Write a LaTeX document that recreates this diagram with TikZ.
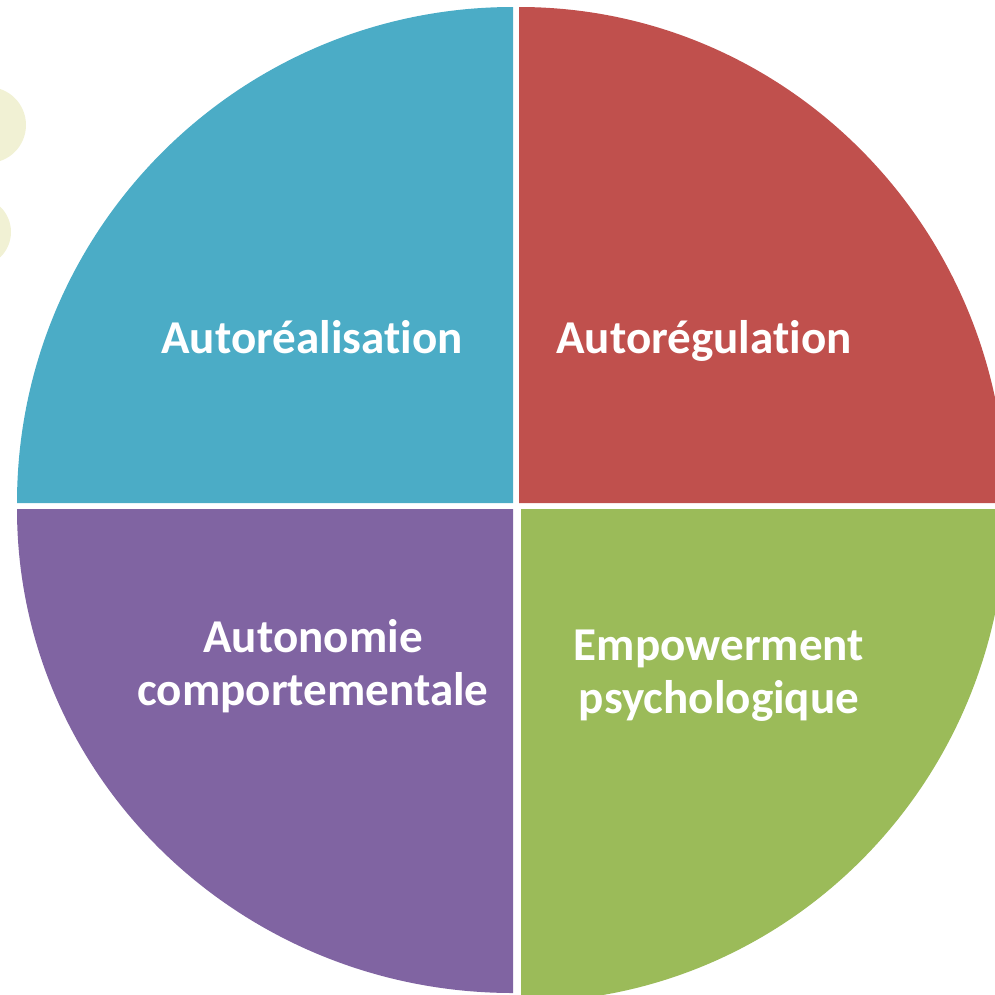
\documentclass[tikz,border=0pt]{standalone}
\usepackage{fontspec}
\setmainfont{Carlito}[Ligatures=NoCommon]
\definecolor{segblue}{HTML}{4BACC6}
\definecolor{segred}{HTML}{C0504D}
\definecolor{segpurple}{HTML}{8064A2}
\definecolor{seggreen}{HTML}{9BBB59}
\definecolor{paleyellow}{RGB}{241,241,212}
\tikzset{
  seglabel/.style={text=white,font=\fontsize{13.4pt}{14.9pt}\selectfont\bfseries,align=center,inner sep=0pt}
}
\begin{document}
\begin{tikzpicture}[x=0.1mm,y=-0.1mm]
   \clip (0,0) rectangle (995,995);
   \fill[paleyellow] (-12,125) circle(38);
   \fill[paleyellow] (-24,232) circle(35);
   \begin{scope}
    \fill[segblue] (513,503) -- (17,503) arc[start angle=180,end angle=270,x radius=496,y radius=496] -- cycle;
    \node[seglabel,anchor=base] (selfreal) at (312,353) {Autoréalisation};
   \end{scope}
   \begin{scope}
    \fill[segred] (519,503) -- (519,7) arc[start angle=270,end angle=360,x radius=487,y radius=496] -- cycle;
    \node[seglabel,anchor=base] (selfreg) at (704,353) {Autorégulation};
   \end{scope}
   \begin{scope}
    \fill[seggreen] (521,509) -- (1006,509) arc[start angle=0,end angle=90,x radius=485,y radius=493] -- cycle;
    \node[seglabel,anchor=base] (empower) at (719,713) {Empowerment\\psychologique};
   \end{scope}
   \begin{scope}
    \fill[segpurple] (513,509) -- (513,993) arc[start angle=90,end angle=180,x radius=496,y radius=484] -- cycle;
    \node[seglabel,anchor=base] (autonomy) at (313,705) {Autonomie\\comportementale};
   \end{scope}
  \end{tikzpicture}
\end{document}
